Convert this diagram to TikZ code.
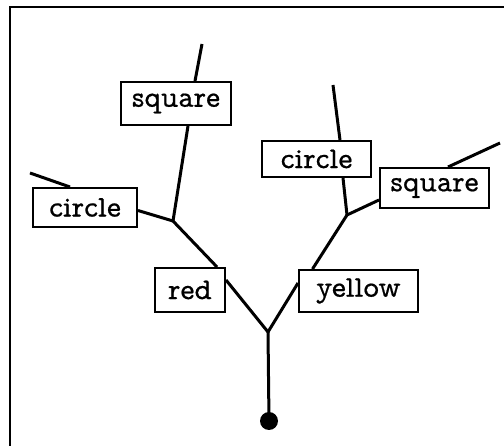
\documentclass[tikz,border=0pt]{standalone}
\usepackage{fontspec}
\newfontfamily\lblfont[FakeBold=0.6]{Latin Modern Mono Prop}
\begin{document}
\begin{tikzpicture}[x=1pt,y=-1pt,
  lbl/.style={draw,line width=2pt,inner sep=0pt,font=\lblfont\fontsize{30}{32}\selectfont},
  branch/.style={line width=3pt},
  frame/.style={line width=2.2pt}]
\useasboundingbox (0,0) rectangle (504,446);
\draw[frame] (10,446) -- (10,7) -- (504,7);
% label boxes
\node[lbl,minimum width=110pt,minimum height=43pt] (sqL) at (176,103.5) {square};
\node[lbl,minimum width=104pt,minimum height=39pt] (cirL) at (85,207.5) {circle};
\node[lbl,minimum width=70pt,minimum height=44pt] (red) at (190,290) {red};
\node[lbl,minimum width=119pt,minimum height=42pt] (yel) at (358.5,291) {yellow};
\node[lbl,minimum width=109pt,minimum height=36pt] (cirR) at (316.5,159) {circle};
\node[lbl,minimum width=109pt,minimum height=40pt] (sqR) at (434.5,188) {square};
% junctions and free ends
\coordinate (jL) at (173,221);
\coordinate (jR) at (347,215);
\coordinate (root) at (268,332);
\coordinate (dot) at (269,421);
\coordinate (eSqL) at (202,44);
\coordinate (eCirL) at (30,173);
\coordinate (eCirR) at (333,85);
\coordinate (eSqR) at (500,143);
% connectors
\draw[branch] (eSqL) -- ([xshift=19pt]sqL.north);
\draw[branch] ([xshift=12pt]sqL.south) -- (jL);
\draw[branch] (eCirL) -- ([xshift=-15pt]cirL.north);
\draw[branch] ([yshift=-3pt]cirL.east) -- (jL);
\draw[branch] (jL) -- ([xshift=27pt]red.north);
\draw[branch] ([yshift=10pt]red.east) -- (root);
\draw[branch] ([yshift=8pt]yel.west) -- (root);
\draw[branch] ([xshift=-46pt]yel.north) -- (jR);
\draw[branch] (jR) -- ([xshift=26.5pt]cirR.south);
\draw[branch] ([xshift=23.5pt]cirR.north) -- (eCirR);
\draw[branch] (jR) -- ([yshift=-12pt]sqR.west);
\draw[branch] ([xshift=13.5pt]sqR.north) -- (eSqR);
\draw[branch] (root) -- (dot);
\fill (dot) circle (9pt);
\end{tikzpicture}
\end{document}
